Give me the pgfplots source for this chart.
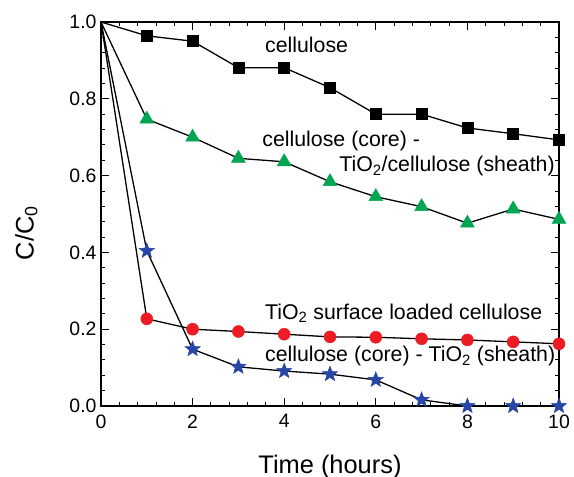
\documentclass[border=0pt]{standalone}
\usepackage{pgfplots}
\pgfplotsset{compat=1.18}
\usepackage{fontspec}
\setmainfont{Liberation Sans}
\definecolor{cgreen}{RGB}{0,166,81}
\definecolor{cred}{RGB}{237,28,36}
\definecolor{cblue}{RGB}{40,70,165}
\pgfdeclareplotmark{fstar}{%
  \pgfpathmoveto{\pgfqpointpolar{90}{\pgfplotmarksize}}%
  \pgfpathlineto{\pgfqpointpolar{126}{0.42\pgfplotmarksize}}%
  \pgfpathlineto{\pgfqpointpolar{162}{\pgfplotmarksize}}%
  \pgfpathlineto{\pgfqpointpolar{198}{0.42\pgfplotmarksize}}%
  \pgfpathlineto{\pgfqpointpolar{234}{\pgfplotmarksize}}%
  \pgfpathlineto{\pgfqpointpolar{270}{0.42\pgfplotmarksize}}%
  \pgfpathlineto{\pgfqpointpolar{306}{\pgfplotmarksize}}%
  \pgfpathlineto{\pgfqpointpolar{342}{0.42\pgfplotmarksize}}%
  \pgfpathlineto{\pgfqpointpolar{18}{\pgfplotmarksize}}%
  \pgfpathlineto{\pgfqpointpolar{54}{0.42\pgfplotmarksize}}%
  \pgfpathclose
  \pgfusepathqfillstroke}
\begin{document}
\begin{tikzpicture}
\begin{axis}[
  scale only axis,
  width=458bp, height=384bp,
  xmin=0, xmax=10, ymin=0, ymax=1.0,
  xtick={0,2,4,6,8,10}, ytick={0,0.2,0.4,0.6,0.8,1.0},
  minor tick num=4,
  tick align=inside,
  major tick length=8bp, minor tick length=4.5bp,
  every tick/.style={black, line width=0.9pt},
  axis line style={line width=1.1pt},
  /pgf/number format/assume math mode=true,
  yticklabel style={/pgf/number format/fixed, /pgf/number format/fixed zerofill, /pgf/number format/precision=1, xshift=-1bp},
  ticklabel style={font=\fontsize{19.5}{21}\selectfont},
  xticklabel style={yshift=-5bp},
  xlabel={Time (hours)},
  ylabel={C/C\textsubscript{0}},
  label style={font=\fontsize{25.5}{28}\selectfont},
  xlabel style={at={(rel axis cs:0.5,0)}, anchor=base, yshift=-67bp},
  ylabel style={at={(rel axis cs:-0.163,0.45)}, anchor=center},
  clip=false,
]
\addplot[black, line width=1.3pt, mark=square*, mark size=5.5bp, mark options={fill=black, line width=0.5pt}, mark indices={2,3,4,5,6,7,8,9,10,11}]
coordinates {(0,1.0)(1,0.964)(2,0.950)(3,0.881)(4,0.881)(5,0.829)(6,0.760)(7,0.760)(8,0.724)(9,0.709)(10,0.693)};
\addplot[black, line width=1.3pt, mark=triangle*, mark size=8bp, mark options={fill=cgreen, draw=cgreen, line width=0.5pt}, mark indices={2,3,4,5,6,7,8,9,10,11}]
coordinates {(0,1.0)(1,0.747)(2,0.700)(3,0.645)(4,0.636)(5,0.584)(6,0.545)(7,0.519)(8,0.476)(9,0.513)(10,0.486)};
\addplot[black, line width=1.3pt, mark=*, mark size=6bp, mark options={fill=cred, draw=cred, line width=0.5pt}, mark indices={2,3,4,5,6,7,8,9,10,11}]
coordinates {(0,1.0)(1,0.227)(2,0.200)(3,0.194)(4,0.187)(5,0.180)(6,0.179)(7,0.175)(8,0.172)(9,0.167)(10,0.162)};
\addplot[black, line width=1.3pt, mark=fstar, mark size=8bp, mark options={fill=cblue, draw=cblue, line width=0.5pt}, mark indices={2,3,4,5,6,7,8,9,10,11}]
coordinates {(0,1.0)(1,0.404)(2,0.148)(3,0.102)(4,0.091)(5,0.083)(6,0.068)(7,0.016)(8,0.0)(9,0.0)(10,0.0)};
\node[anchor=base west, inner sep=0pt, font=\fontsize{21.4}{23}\selectfont] at (axis cs:3.58,0.92) {cellulose};
\node[anchor=base west, inner sep=0pt, font=\fontsize{21.4}{23}\selectfont] at (axis cs:3.52,0.675) {cellulose (core) -};
\node[anchor=base east, inner sep=0pt, font=\fontsize{21.4}{23}\selectfont] at (axis cs:9.91,0.61) {TiO\textsubscript{2}/cellulose (sheath)};
\node[anchor=base west, inner sep=0pt, font=\fontsize{21.4}{23}\selectfont] at (axis cs:3.58,0.225) {TiO\textsubscript{2} surface loaded cellulose};
\node[anchor=base west, inner sep=0pt, font=\fontsize{21.4}{23}\selectfont] at (axis cs:3.58,0.115) {cellulose (core) - TiO\textsubscript{2} (sheath)};
\end{axis}
\pgfresetboundingbox
\useasboundingbox ([xshift=-101bp,yshift=-71bp]current axis.south west) rectangle ([xshift=15bp,yshift=22bp]current axis.north east);
\end{tikzpicture}
\end{document}
